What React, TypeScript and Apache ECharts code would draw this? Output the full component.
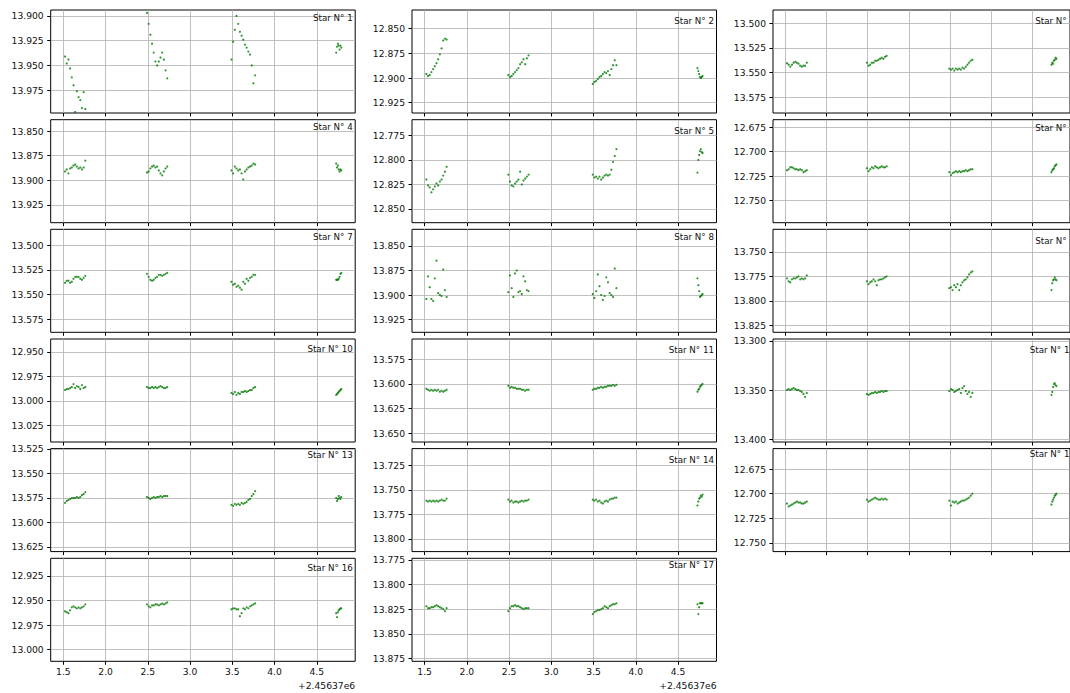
import React, { useEffect, useRef } from 'react';
import * as echarts from 'echarts';

// Observation times (JD - 2456370)
const times = [
  1.52, 1.54, 1.56, 1.58, 1.60, 1.62, 1.64, 1.66, 1.68, 1.70, 1.72, 1.74, 1.76,
  2.49, 2.51, 2.53, 2.55, 2.57, 2.59, 2.61, 2.63, 2.65, 2.67, 2.69, 2.71, 2.73,
  3.49, 3.51, 3.53, 3.55, 3.57, 3.59, 3.61, 3.63, 3.65, 3.67, 3.69, 3.71, 3.73, 3.75, 3.77,
  4.73, 4.74, 4.75, 4.76, 4.77, 4.78, 4.79,
];

const star1 = [
  13.941, 13.948, 13.944, 13.953, 13.962, 13.970, 13.997, 13.976, 13.982, 13.985, 13.993, 13.977, 13.994,
  13.897, 13.908, 13.919, 13.928, 13.937, 13.946, 13.950, 13.946, 13.942, 13.937, 13.944, 13.955, 13.963,
  13.944, 13.926, 13.914, 13.900, 13.908, 13.916, 13.920, 13.924, 13.929, 13.932, 13.936, 13.939, 13.950, 13.968, 13.960,
  13.937, 13.931, 13.928, 13.930, 13.934, 13.930, 13.932,
];
const star2 = [
  12.896, 12.898, 12.897, 12.894, 12.891, 12.888, 12.885, 12.881, 12.876, 12.870, 12.862, 12.860, 12.861,
  12.897, 12.899, 12.898, 12.896, 12.894, 12.892, 12.890, 12.886, 12.884, 12.881, 12.886, 12.880, 12.877,
  12.906, 12.904, 12.903, 12.901, 12.899, 12.898, 12.896, 12.894, 12.895, 12.893, 12.897, 12.891, 12.887, 12.882, 12.887,
  12.890, 12.893, 12.896, 12.899, 12.900, 12.899, 12.898,
];
const star3 = [
  13.5405, 13.542, 13.544, 13.542, 13.540, 13.539, 13.540, 13.541, 13.543, 13.544, 13.543, 13.543, 13.540,
  13.540, 13.543, 13.542, 13.540, 13.540, 13.538, 13.538, 13.537, 13.536, 13.535, 13.536, 13.534, 13.533,
  13.546, 13.547, 13.546, 13.548, 13.546, 13.547, 13.546, 13.547, 13.545, 13.546, 13.544, 13.542, 13.540, 13.538, 13.537,
  13.542, 13.540, 13.541, 13.538, 13.537, 13.535, 13.536,
];
const star4 = [
  13.891, 13.889, 13.893, 13.888, 13.887, 13.885, 13.884, 13.886, 13.888, 13.887, 13.889, 13.887, 13.880,
  13.892, 13.891, 13.888, 13.886, 13.885, 13.887, 13.886, 13.890, 13.893, 13.895, 13.891, 13.888, 13.886,
  13.890, 13.893, 13.886, 13.888, 13.890, 13.889, 13.893, 13.899, 13.891, 13.889, 13.887, 13.886, 13.885, 13.883, 13.884,
  13.883, 13.887, 13.885, 13.889, 13.891, 13.889, 13.890,
];
const star5 = [
  12.820, 12.826, 12.828, 12.833, 12.830, 12.827, 12.824, 12.826, 12.822, 12.820, 12.816, 12.812, 12.807,
  12.815, 12.822, 12.826, 12.827, 12.824, 12.822, 12.820, 12.812, 12.825, 12.821, 12.819, 12.817, 12.815,
  12.815, 12.818, 12.817, 12.819, 12.817, 12.820, 12.818, 12.816, 12.815, 12.816, 12.815, 12.810, 12.802, 12.796, 12.789,
  12.813, 12.800, 12.795, 12.791, 12.789, 12.792, 12.793,
];
const star6 = [
  12.719, 12.718, 12.716, 12.716, 12.717, 12.718, 12.718, 12.719, 12.718, 12.719, 12.721, 12.720, 12.719,
  12.717, 12.720, 12.718, 12.716, 12.717, 12.715, 12.716, 12.717, 12.716, 12.715, 12.716, 12.716, 12.715,
  12.721, 12.724, 12.722, 12.721, 12.720, 12.721, 12.720, 12.721, 12.720, 12.720, 12.719, 12.720, 12.719, 12.718, 12.718,
  12.721, 12.719, 12.718, 12.717, 12.715, 12.714, 12.713,
];
const star7 = [
  13.538, 13.536, 13.536, 13.538, 13.537, 13.534, 13.532, 13.532, 13.532, 13.534, 13.535, 13.533, 13.531,
  13.529, 13.532, 13.535, 13.536, 13.535, 13.533, 13.532, 13.530, 13.530, 13.531, 13.530, 13.529, 13.528,
  13.537, 13.540, 13.539, 13.542, 13.541, 13.543, 13.545, 13.537, 13.539, 13.534, 13.536, 13.533, 13.532, 13.530, 13.530,
  13.535, 13.535, 13.535, 13.534, 13.532, 13.529, 13.528,
];
const star8 = [
  13.904, 13.881, 13.892, 13.904, 13.906, 13.883, 13.865, 13.898, 13.900, 13.901, 13.874, 13.895, 13.902,
  13.897, 13.880, 13.893, 13.902, 13.878, 13.875, 13.897, 13.896, 13.899, 13.881, 13.886, 13.895, 13.896,
  13.899, 13.903, 13.896, 13.879, 13.891, 13.900, 13.905, 13.901, 13.882, 13.887, 13.898, 13.900, 13.902, 13.873, 13.893,
  13.883, 13.890, 13.896, 13.902, 13.901, 13.900, 13.899,
];
const star9 = [
  13.777, 13.780, 13.781, 13.778, 13.777, 13.777, 13.776, 13.775, 13.778, 13.777, 13.778, 13.777, 13.774,
  13.780, 13.783, 13.781, 13.780, 13.778, 13.780, 13.784, 13.779, 13.778, 13.778, 13.777, 13.776, 13.775,
  13.787, 13.786, 13.789, 13.784, 13.786, 13.783, 13.789, 13.784, 13.781, 13.779, 13.778, 13.776, 13.773, 13.771, 13.770,
  13.789, 13.782, 13.779, 13.778, 13.776, 13.778, 13.779,
];
const star10 = [
  12.989, 12.988, 12.988, 12.987, 12.986, 12.983, 12.987, 12.985, 12.986, 12.988, 12.984, 12.987, 12.986,
  12.986, 12.987, 12.987, 12.986, 12.987, 12.986, 12.987, 12.986, 12.985, 12.986, 12.987, 12.987, 12.986,
  12.992, 12.993, 12.991, 12.994, 12.992, 12.993, 12.991, 12.991, 12.990, 12.991, 12.990, 12.989, 12.989, 12.987, 12.986,
  12.994, 12.993, 12.992, 12.991, 12.990, 12.989, 12.988,
];
const star11 = [
  13.605, 13.606, 13.607, 13.606, 13.607, 13.606, 13.607, 13.606, 13.608, 13.607, 13.608, 13.607, 13.606,
  13.602, 13.604, 13.603, 13.604, 13.604, 13.605, 13.605, 13.605, 13.606, 13.606, 13.607, 13.606, 13.606,
  13.606, 13.605, 13.605, 13.604, 13.604, 13.603, 13.604, 13.603, 13.603, 13.602, 13.602, 13.602, 13.601, 13.602, 13.601,
  13.608, 13.606, 13.605, 13.603, 13.602, 13.601, 13.600,
];
const star12 = [
  13.350, 13.349, 13.350, 13.349, 13.348, 13.349, 13.350, 13.350, 13.351, 13.352, 13.354, 13.357, 13.353,
  13.354, 13.355, 13.354, 13.353, 13.353, 13.352, 13.353, 13.352, 13.352, 13.351, 13.352, 13.351, 13.351,
  13.351, 13.349, 13.350, 13.352, 13.351, 13.350, 13.349, 13.353, 13.348, 13.346, 13.351, 13.354, 13.352, 13.357, 13.353,
  13.355, 13.352, 13.347, 13.344, 13.343, 13.345, 13.346,
];
const star13 = [
  13.580, 13.578, 13.577, 13.576, 13.575, 13.575, 13.575, 13.574, 13.575, 13.574, 13.572, 13.571, 13.569,
  13.574, 13.575, 13.576, 13.575, 13.574, 13.575, 13.574, 13.574, 13.573, 13.574, 13.573, 13.573, 13.573,
  13.582, 13.583, 13.581, 13.582, 13.581, 13.582, 13.580, 13.581, 13.580, 13.579, 13.577, 13.576, 13.573, 13.571, 13.568,
  13.575, 13.578, 13.576, 13.573, 13.575, 13.576, 13.574,
];
const star14 = [
  13.761, 13.762, 13.761, 13.762, 13.761, 13.762, 13.761, 13.762, 13.761, 13.760, 13.761, 13.761, 13.759,
  13.760, 13.762, 13.761, 13.763, 13.762, 13.762, 13.763, 13.762, 13.761, 13.762, 13.761, 13.761, 13.760,
  13.760, 13.761, 13.760, 13.762, 13.761, 13.763, 13.764, 13.762, 13.761, 13.762, 13.760, 13.759, 13.759, 13.758, 13.758,
  13.766, 13.762, 13.759, 13.758, 13.756, 13.757, 13.755,
];
const star15 = [
  12.710, 12.713, 12.712, 12.711, 12.710, 12.709, 12.708, 12.709, 12.709, 12.710, 12.710, 12.709, 12.708,
  12.706, 12.708, 12.707, 12.706, 12.705, 12.704, 12.705, 12.706, 12.706, 12.705, 12.706, 12.705, 12.706,
  12.707, 12.712, 12.708, 12.709, 12.708, 12.710, 12.709, 12.708, 12.707, 12.707, 12.706, 12.705, 12.704, 12.702, 12.700,
  12.711, 12.708, 12.706, 12.704, 12.702, 12.701, 12.700,
];
const star16 = [
  12.961, 12.962, 12.963, 12.960, 12.957, 12.956, 12.957, 12.958, 12.957, 12.958, 12.957, 12.956, 12.954,
  12.954, 12.956, 12.957, 12.955, 12.955, 12.954, 12.954, 12.955, 12.954, 12.953, 12.954, 12.953, 12.952,
  12.959, 12.958, 12.958, 12.959, 12.959, 12.966, 12.963, 12.958, 12.959, 12.957, 12.958, 12.956, 12.955, 12.954, 12.953,
  12.963, 12.967, 12.962, 12.960, 12.959, 12.958, 12.958,
];
const star17 = [
  13.822, 13.824, 13.824, 13.823, 13.823, 13.822, 13.821, 13.822, 13.823, 13.824, 13.825, 13.827, 13.824,
  13.827, 13.824, 13.822, 13.822, 13.821, 13.822, 13.822, 13.823, 13.824, 13.825, 13.824, 13.824, 13.824,
  13.830, 13.828, 13.827, 13.826, 13.826, 13.825, 13.824, 13.822, 13.823, 13.824, 13.822, 13.821, 13.820, 13.820, 13.819,
  13.820, 13.830, 13.823, 13.819, 13.819, 13.819, 13.819,
];

const stars = [
  star1, star2, star3, star4, star5, star6, star7, star8, star9,
  star10, star11, star12, star13, star14, star15, star16, star17,
];

const starNames = stars.map((_, i) => `Star N° ${i + 1}`);

// y-axis limits (magnitudes, inverted) and tick values per star
const yRanges = [
  [13.894, 13.998], [12.831, 12.9355], [13.4865, 13.591],
  [13.8385, 13.943], [12.759, 12.864], [12.6675, 12.7725],
  [13.484, 13.588], [13.833, 13.938], [13.727, 13.832],
  [12.937, 13.042], [13.5545, 13.659], [13.298, 13.403],
  [13.5246, 13.6297], [13.708, 13.813], [12.654, 12.759],
  [12.907, 13.012], [13.7733, 13.878],
];
const yTicks = [
  [13.9, 13.925, 13.95, 13.975], [12.85, 12.875, 12.9, 12.925], [13.5, 13.525, 13.55, 13.575],
  [13.85, 13.875, 13.9, 13.925], [12.775, 12.8, 12.825, 12.85], [12.675, 12.7, 12.725, 12.75],
  [13.5, 13.525, 13.55, 13.575], [13.85, 13.875, 13.9, 13.925], [13.75, 13.775, 13.8, 13.825],
  [12.95, 12.975, 13.0, 13.025], [13.575, 13.6, 13.625, 13.65], [13.3, 13.35, 13.4],
  [13.525, 13.55, 13.575, 13.6, 13.625], [13.725, 13.75, 13.775, 13.8], [12.675, 12.7, 12.725, 12.75],
  [12.925, 12.95, 12.975, 13.0], [13.775, 13.8, 13.825, 13.85, 13.875],
];

const xTicks = [1.5, 2.0, 2.5, 3.0, 3.5, 4.0, 4.5];
const xRange = [1.35, 4.955];
const xOffsetText = '+2.45637e6';

// layout (pixels)
const COL_LEFT = [50.7, 412, 773];
const ROW_TOP = [10, 119.7, 229.3, 339, 448.6, 558.3];
const PANEL_W = 304.5;
const PANEL_H = 103;
const LABEL_DY = [8.3, 10.7, 10.7, 7.3, 11.7, 8.3, 8, 8, 11.4, 10, 11, 11, 6.4, 11.4, 5.4, 10, 6.7];

const FONT = 'DejaVu Sans';
const TEXT_COLOR = '#111111';
const GRID_COLOR = '#b0b0b0';

export default function App() {
  const ref = useRef<HTMLDivElement>(null);

  useEffect(() => {
    if (!ref.current) return;
    const chart = echarts.init(ref.current, null, { renderer: 'svg' });

    const grids: any[] = [];
    const xAxes: any[] = [];
    const yAxes: any[] = [];
    const series: any[] = [];
    const graphics: any[] = [];

    stars.forEach((vals, i) => {
      const col = i % 3;
      const row = Math.floor(i / 3);
      const left = COL_LEFT[col];
      const top = ROW_TOP[row];
      const isBottomLabeled = i === 15 || i === 16;

      grids.push({
        left,
        top,
        width: PANEL_W,
        height: PANEL_H,
        show: true,
        borderColor: '#000',
        borderWidth: 1,
        backgroundColor: 'transparent',
        containLabel: false,
      });

      xAxes.push({
        type: 'value',
        gridIndex: i,
        min: xRange[0],
        max: xRange[1],
        axisLine: { show: false },
        axisTick: {
          show: true,
          inside: false,
          length: 3.5,
          lineStyle: { color: '#000', width: 1 },
          customValues: xTicks,
        },
        axisLabel: {
          show: isBottomLabeled,
          customValues: xTicks,
          formatter: (v: number) => v.toFixed(1),
          color: TEXT_COLOR,
          fontFamily: FONT,
          fontSize: 9.2,
          margin: 6,
        },
        splitLine: { show: true, lineStyle: { color: GRID_COLOR, width: 0.8 } },
      });

      yAxes.push({
        type: 'value',
        gridIndex: i,
        inverse: true,
        min: yRanges[i][0],
        max: yRanges[i][1],
        axisLine: { show: false },
        axisTick: {
          show: true,
          inside: false,
          length: 3.5,
          lineStyle: { color: '#000', width: 1 },
          customValues: yTicks[i],
        },
        axisLabel: {
          show: true,
          customValues: yTicks[i],
          formatter: (v: number) => v.toFixed(3),
          color: TEXT_COLOR,
          fontFamily: FONT,
          fontSize: 9.2,
          margin: 7,
        },
        splitLine: { show: true, lineStyle: { color: GRID_COLOR, width: 0.8 } },
      });

      series.push({
        type: 'scatter',
        xAxisIndex: i,
        yAxisIndex: i,
        symbol: 'circle',
        symbolSize: 2.2,
        itemStyle: { color: '#007a00' },
        silent: true,
        data: times.map((t, j) => [t, vals[j]]),
      });

      graphics.push({
        type: 'text',
        x: left + PANEL_W - 2.5,
        y: top + LABEL_DY[i],
        style: {
          text: starNames[i],
          fill: TEXT_COLOR,
          font: `8.7px "${FONT}"`,
          textAlign: 'right',
          textVerticalAlign: 'middle',
        },
        silent: true,
        z: 100,
      });

      if (isBottomLabeled) {
        graphics.push({
          type: 'text',
          x: left + PANEL_W,
          y: 685,
          style: {
            text: xOffsetText,
            fill: TEXT_COLOR,
            font: `9.2px "${FONT}"`,
            textAlign: 'right',
            textVerticalAlign: 'middle',
          },
          silent: true,
        });
      }
    });

    chart.setOption({
      animation: false,
      backgroundColor: '#ffffff',
      grid: grids,
      xAxis: xAxes,
      yAxis: yAxes,
      series,
      graphic: graphics,
    });

    return () => chart.dispose();
  }, []);

  return (
    <div
      ref={ref}
      style={{ position: 'absolute', left: 0, top: 0, width: 1070, height: 693 }}
    />
  );
}
